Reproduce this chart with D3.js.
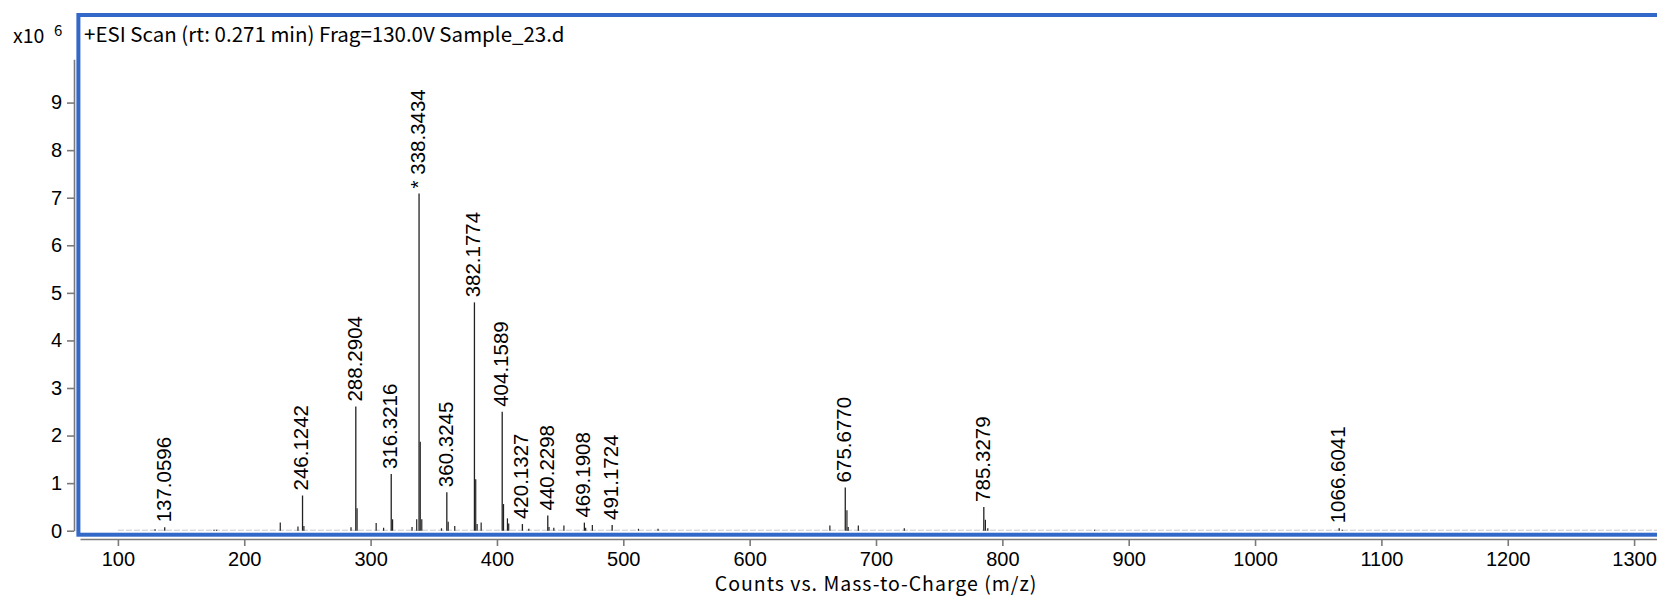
<!DOCTYPE html>
<html>
<head>
<meta charset="utf-8">
<script src="https://cdn.jsdelivr.net/npm/d3@7"></script>
<style>
  body { margin: 0; background: #fff; }
  svg { display: block; }
  .tick text { fill: #000; }
</style>
</head>
<body>
<div id="chart"></div>
<script>
// labelled peaks: m/z and counts (x10^6)
var peakMz  = [137.0596, 246.1242, 288.2904, 316.3216, 338.3434, 360.3245, 382.1774, 404.1589,
               420.1327, 440.2298, 469.1908, 491.1724, 675.6770, 785.3279, 1066.6041];
var peakVal = [0.07, 0.74, 2.61, 1.19, 7.09, 0.81, 4.80, 2.50,
               0.14, 0.32, 0.17, 0.12, 0.91, 0.50, 0.05];
var peakTag = ["", "", "", "", "* ", "", "", "", "", "", "", "", "", "", ""];

// unlabelled small peaks (isotopes, noise)
var minorMz  = [129.4, 176.0, 178.1, 228.5, 242.5, 247.2, 284.5, 289.3, 304.4, 310.3, 317.4, 332.8,
                336.5, 339.3, 340.5, 356.1, 361.4, 366.6, 383.2, 384.3, 387.5, 405.2, 408.3, 409.3,
                425.2, 441.2, 445.0, 453.0, 470.2, 475.5, 512.0, 527.5, 663.5, 677.0, 678.0, 686.0,
                722.4, 786.6, 788.5, 873.0, 1069.0];
var minorVal = [0.03, 0.02, 0.02, 0.17, 0.09, 0.10, 0.07, 0.47, 0.16, 0.06, 0.24, 0.08,
                0.24, 1.87, 0.24, 0.05, 0.19, 0.10, 1.08, 0.14, 0.17, 0.56, 0.26, 0.15,
                0.04, 0.08, 0.06, 0.11, 0.06, 0.12, 0.04, 0.04, 0.11, 0.43, 0.08, 0.11,
                0.05, 0.23, 0.05, 0.02, 0.02];

var xTicks = [100, 200, 300, 400, 500, 600, 700, 800, 900, 1000, 1100, 1200, 1300];
var yTicks = [0, 1, 2, 3, 4, 5, 6, 7, 8, 9];

var titleText = "+ESI Scan (rt: 0.271 min) Frag=130.0V Sample_23.d";
var xTitle = "Counts vs. Mass-to-Charge (m/z)";

var W = 1657, H = 600;
var numFont = "'Liberation Sans', Arial, sans-serif";
var jpFont = "'Noto Sans CJK JP', 'Liberation Sans', sans-serif";

var svg = d3.select("#chart").append("svg").attr("width", W).attr("height", H);

var x = d3.scaleLinear().domain([70, 1330]).range([80, 1672]);
var y = d3.scaleLinear().domain([0, 9.91]).range([530.7, 59.3]);

// blue panel frame (right side runs off the picture)
svg.append("rect")
  .attr("x", 78.4).attr("y", 15).attr("width", 1700).attr("height", 519.7)
  .attr("fill", "none").attr("stroke", "#3268c8").attr("stroke-width", 4);

// baseline trace
svg.append("line")
  .attr("x1", x(100)).attr("x2", x(1320))
  .attr("y1", y(0) - 0.5).attr("y2", y(0) - 0.5)
  .attr("stroke", "#c8c8c8").attr("stroke-width", 1).attr("stroke-dasharray", "6,2");

// minor peaks
svg.selectAll(".minor").data(minorMz).enter().append("line")
  .attr("class", "minor")
  .attr("x1", function(d) { return x(d); }).attr("x2", function(d) { return x(d); })
  .attr("y1", y(0)).attr("y2", function(d, i) { return y(minorVal[i]); })
  .attr("stroke", "#222").attr("stroke-width", 1.2);

// labelled peaks
svg.selectAll(".peak").data(peakMz).enter().append("line")
  .attr("class", "peak")
  .attr("x1", function(d) { return x(d); }).attr("x2", function(d) { return x(d); })
  .attr("y1", y(0)).attr("y2", function(d, i) { return y(peakVal[i]); })
  .attr("stroke", "#222").attr("stroke-width", 1.3);

svg.selectAll(".plabel").data(peakMz).enter().append("text")
  .attr("class", "plabel")
  .attr("transform", function(d, i) {
    return "translate(" + (x(d) - 1.5) + "," + (y(peakVal[i]) - 5) + ") rotate(-90)";
  })
  .attr("dy", "0.36em")
  .attr("font-family", numFont).attr("font-size", 20.5)
  .text(function(d, i) { return peakTag[i] + d.toFixed(4); });

// axes
var yAxis = svg.append("g")
  .attr("transform", "translate(74,0)")
  .call(d3.axisLeft(y).tickValues(yTicks).tickSize(7).tickSizeOuter(0).tickPadding(5));
var xAxis = svg.append("g")
  .attr("transform", "translate(0,539)")
  .call(d3.axisBottom(x).tickValues(xTicks).tickFormat(d3.format("d"))
    .tickSize(7).tickSizeOuter(0).tickPadding(6));

[yAxis, xAxis].forEach(function(g) {
  g.selectAll("path, line").attr("stroke", "#7a7a7a").attr("stroke-width", 1.6);
  g.selectAll("text").attr("font-family", numFont).attr("font-size", 20);
});

// titles
svg.append("text").attr("x", 13).attr("y", 43)
  .attr("font-family", jpFont).attr("font-size", 19.5).text("x10");
svg.append("text").attr("x", 54).attr("y", 36)
  .attr("font-family", jpFont).attr("font-size", 15).text("6");

svg.append("text").attr("x", 84).attr("y", 42)
  .attr("font-family", jpFont).attr("font-size", 20.5).text(titleText);

svg.append("text").attr("x", 876).attr("y", 591)
  .attr("text-anchor", "middle").attr("letter-spacing", 1)
  .attr("font-family", jpFont).attr("font-size", 19.5).text(xTitle);
</script>
</body>
</html>
